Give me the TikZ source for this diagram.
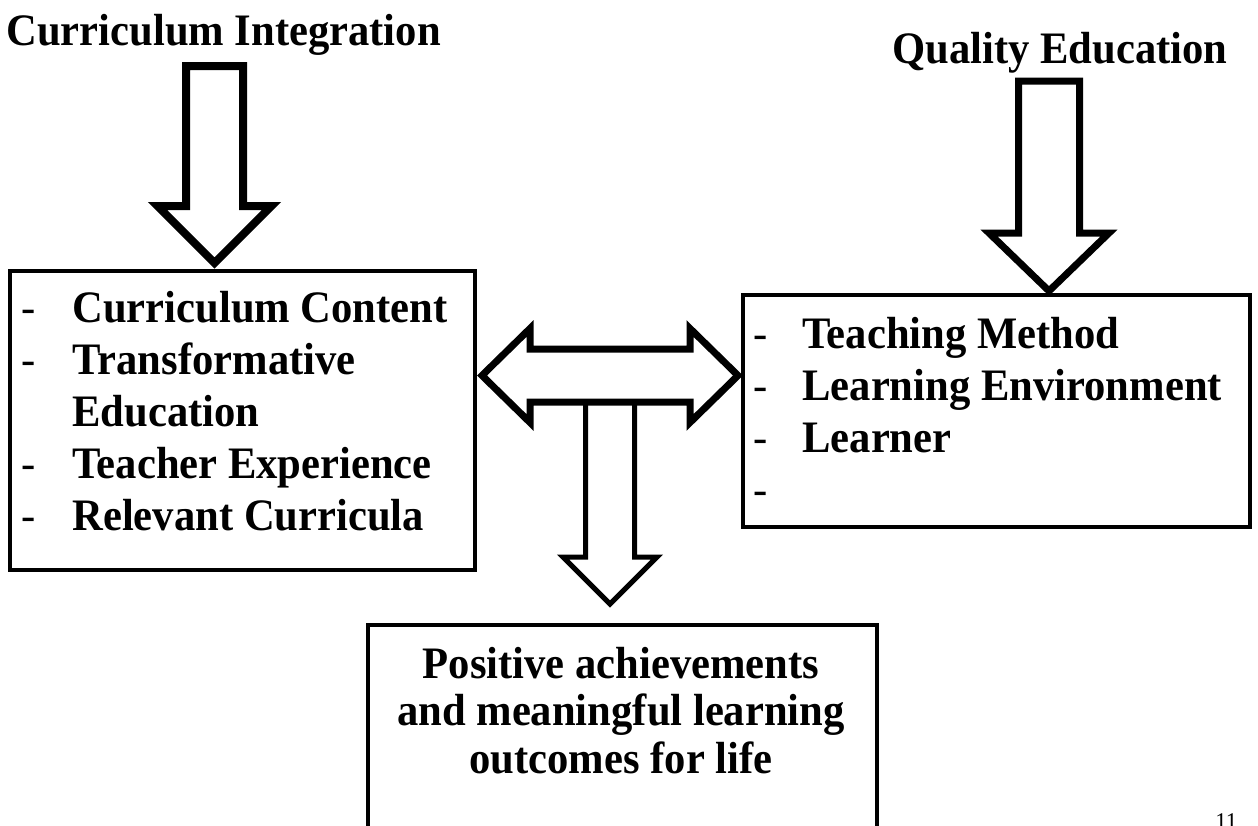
\documentclass[tikz,border=0pt]{standalone}
\usepackage{fontspec}
\setmainfont{Liberation Serif}[FakeStretch=0.947]
\usetikzlibrary{calc}
% freccia piena verso il basso: stile, punta, mezza asta, mezza testa, testa, lunghezza
\newcommand{\frecciaGiu}[6]{
\draw[#1] ($(#2)+(-#3,-#6)$) -- ($(#2)+(#3,-#6)$) -- ($(#2)+(#3,-#5)$) -- ($(#2)+(#4,-#5)$) -- (#2) -- ($(#2)+(-#4,-#5)$) -- ($(#2)+(-#3,-#5)$) -- cycle;
}

\begin{document}
\begin{tikzpicture}[x=0.5pt, y=-0.5pt,
    riquadro/.style = {draw, line width=2pt, inner sep=0pt, outer sep=0pt, anchor=north west},
    titolo/.style = {inner sep=0pt, anchor=base west, font=\fontsize{22.5}{26}\selectfont\bfseries},
    elenco/.style = {inner sep=0pt, anchor=base west, font=\fontsize{22.5}{26}\selectfont}]
    \useasboundingbox (0,0) rectangle (1258,825);
    \clip (0,0) rectangle (1258,825);
    % titoli
    \node[titolo] (integrazione) at (6,45) {Curriculum Integration};
    \node[titolo] (qualita) at (892,63) {Quality Education};
    % riquadri
    \node[riquadro, minimum width=232.5pt, minimum height=149.5pt] (contenuto) at (10,271) {};
    \node[riquadro, minimum width=253.5pt, minimum height=116pt] (ambiente) at (743,295) {};
    \node[riquadro, minimum width=254.5pt, minimum height=200pt] (risultati) at (368,625) {};
    % testi
    \node[elenco] (vociSx) at (21,322) {\begin{tabular}[t]{@{}l@{}l@{}}
        \makebox[25.5pt][l]{-} & \textbf{Curriculum Content}\\
        - & \textbf{Transformative}\\
          & \textbf{Education}\\
        - & \textbf{Teacher Experience}\\
        - & \textbf{Relevant Curricula}
    \end{tabular}};
    \node[elenco] (vociDx) at (753,348) {\begin{tabular}[t]{@{}l@{}l@{}}
        \makebox[24.5pt][l]{-} & \textbf{Teaching Method}\\
        - & \textbf{Learning Environment}\\
        - & \textbf{Learner}\\
        - &
    \end{tabular}};
    \node[inner sep=0pt, anchor=base, font=\fontsize{22.5}{23.75}\selectfont\bfseries] (esito) at (621,678) {\begin{tabular}[t]{@{}c@{}}
        Positive achievements\\
        and meaningful learning\\
        outcomes for life
    \end{tabular}};
    \node[inner sep=0pt, anchor=base west, font=\fontsize{12}{12}\selectfont] (pagina) at (1215,829) {11};
    % frecce verso il basso
    \coordinate (puntaSx) at (214.5,263);
    \coordinate (puntaDx) at (1049,291);
    \coordinate (puntaGiu) at (610,604);
    \frecciaGiu{line width=4pt}{puntaSx}{28.5}{57}{57}{197}
    \frecciaGiu{line width=3.5pt}{puntaDx}{30.5}{60}{58}{210}
    \frecciaGiu{line width=2.5pt}{puntaGiu}{24.5}{47}{47}{202}
    % freccia doppia
    \coordinate (puntaA) at (482,375.5);
    \coordinate (puntaB) at (738,375.5);
    \draw[line width=3.5pt] (puntaA) -- ($(puntaA)+(48,-47)$) -- ($(puntaA)+(48,-26.5)$) -- ($(puntaB)+(-48,-26.5)$) -- ($(puntaB)+(-48,-47)$) -- (puntaB)
        -- ($(puntaB)+(-48,47)$) -- ($(puntaB)+(-48,26.5)$) -- ($(puntaA)+(48,26.5)$) -- ($(puntaA)+(48,47)$) -- cycle;
\end{tikzpicture}
\end{document}
